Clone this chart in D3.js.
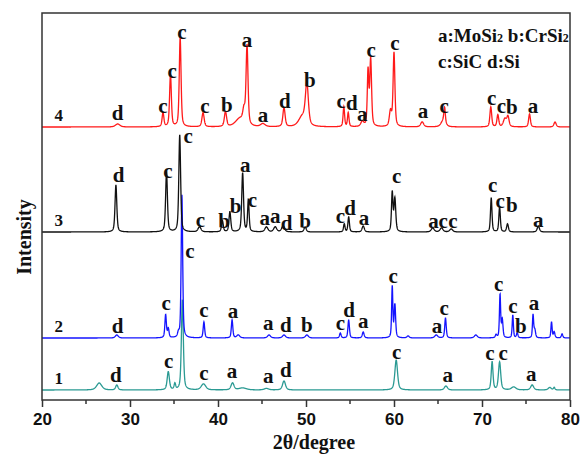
<!DOCTYPE html>
<html lang="en">
<head>
  <meta charset="UTF-8" />
  <title>XRD patterns</title>
  <style>
    body {
      margin: 0;
      background: #fff;
    }
    .peak-label, .trace-name, .legend, .axis-title {
      font-family: "Liberation Serif", "Times New Roman", serif;
      font-weight: bold;
      fill: #111;
    }
    .peak-label { font-size: 21px; }
    .trace-name { font-size: 17px; }
    .legend { font-size: 19px; }
    .axis-title { font-size: 20px; }
    .tick-label {
      font-family: "Liberation Sans", Arial, sans-serif;
      font-weight: bold;
      font-size: 17px;
      fill: #111;
    }
  </style>
</head>
<body>
  <div id="chart"></div>
  <script src="https://d3js.org/d3.v7.min.js"></script>
  <script>
    // Peaks: [2theta, intensity, half width]
    var peaks1 = [
      [26.5, 70, 0.35], [28.5, 50, 0.15], [34.35, 180, 0.15], [35.1, 60, 0.1],
      [35.95, 900, 0.13], [38.35, 60, 0.3], [41.65, 70, 0.2], [42.8, 20, 0.5],
      [45.5, 15, 0.3], [47.5, 90, 0.2], [60.25, 300, 0.18], [65.9, 40, 0.2],
      [71.15, 280, 0.12], [72.0, 280, 0.15], [73.6, 30, 0.3], [75.7, 50, 0.2],
      [77.7, 25, 0.2], [78.2, 25, 0.1]
    ];
    var peaks2 = [
      [28.5, 30, 0.2], [34.05, 230, 0.1], [34.35, 90, 0.1], [35.5, 40, 0.1],
      [35.9, 1430, 0.1], [38.4, 160, 0.1], [41.6, 180, 0.1], [42.3, 30, 0.2],
      [45.8, 30, 0.2], [47.5, 30, 0.2], [50.1, 30, 0.2], [53.9, 50, 0.1],
      [54.85, 180, 0.1], [56.5, 60, 0.12], [59.8, 510, 0.08], [60.1, 330, 0.1],
      [61.6, 20, 0.15], [64.8, 30, 0.2], [65.85, 200, 0.1], [69.3, 30, 0.2],
      [71.6, 30, 0.1], [72.05, 430, 0.08], [72.3, 180, 0.1], [73.5, 230, 0.08],
      [74.0, 50, 0.1], [75.8, 230, 0.08], [76.0, 80, 0.1], [77.9, 160, 0.08],
      [78.2, 60, 0.1], [79.1, 40, 0.1]
    ];
    var peaks3 = [
      [28.4, 470, 0.12], [34.15, 600, 0.12], [35.65, 970, 0.12], [37.9, 50, 0.2],
      [40.5, 110, 0.12], [41.35, 200, 0.12], [42.8, 590, 0.12], [43.45, 320, 0.1],
      [45.5, 50, 0.2], [46.5, 50, 0.2], [47.4, 60, 0.2], [49.9, 50, 0.15],
      [54.35, 80, 0.1], [54.85, 150, 0.1], [56.5, 60, 0.15], [59.8, 390, 0.1],
      [60.1, 330, 0.12], [64.4, 40, 0.2], [65.4, 40, 0.2], [66.5, 30, 0.2],
      [71.05, 340, 0.1], [72.0, 250, 0.1], [72.9, 80, 0.12], [76.4, 60, 0.15]
    ];
    var peaks4 = [
      [28.6, 30, 0.3], [33.75, 140, 0.12], [34.6, 520, 0.12], [35.7, 890, 0.12],
      [38.3, 140, 0.15], [40.85, 150, 0.15], [42.5, 80, 0.6], [42.95, 120, 0.15],
      [43.3, 790, 0.13], [45.1, 30, 0.3], [47.5, 190, 0.15], [49.6, 100, 0.5],
      [50.1, 400, 0.2], [54.3, 200, 0.1], [54.8, 140, 0.1], [56.4, 50, 0.2],
      [57.05, 550, 0.1], [57.35, 670, 0.12], [59.6, 150, 0.15], [60.0, 740, 0.12],
      [63.2, 50, 0.2], [65.6, 60, 0.3], [65.75, 150, 0.1], [71.0, 200, 0.12],
      [71.8, 120, 0.12], [72.6, 80, 0.2], [72.95, 100, 0.15], [75.4, 130, 0.12],
      [78.3, 50, 0.15]
    ];

    // Phase letters above the peaks: [letter, 2theta, height above baseline]
    var labels1 = [
      ["d", 28.4, 80], ["c", 34.4, 220], ["c", 38.4, 100], ["a", 41.6, 120],
      ["a", 45.7, 70], ["d", 47.7, 130], ["c", 60.3, 310], ["a", 66.1, 80],
      ["c", 70.9, 300], ["c", 72.4, 300], ["a", 75.6, 90]
    ];
    var labels2 = [
      ["d", 28.6, 50], ["c", 34.1, 280], ["c", 36.8, 800], ["c", 38.4, 210],
      ["a", 41.7, 200], ["a", 45.7, 80], ["d", 47.7, 60], ["b", 50.1, 60],
      ["c", 53.9, 80], ["d", 54.9, 210], ["a", 56.5, 100], ["c", 59.9, 550],
      ["a", 64.9, 50], ["c", 65.7, 230], ["c", 71.9, 470], ["c", 73.5, 250],
      ["b", 74.4, 50], ["a", 75.9, 280]
    ];
    var labels3 = [
      ["d", 28.7, 500], ["c", 34.3, 540], ["c", 36.6, 890], ["c", 38.0, 50],
      ["b", 40.7, 40], ["b", 42.0, 190], ["a", 43.1, 600], ["c", 43.9, 250],
      ["a", 45.3, 70], ["a", 46.5, 90], ["d", 47.8, 20], ["b", 49.9, 40],
      ["c", 53.9, 90], ["d", 55.0, 170], ["a", 56.6, 70], ["c", 60.3, 490],
      ["a", 64.5, 40], ["c", 65.6, 40], ["c", 66.7, 40], ["c", 71.2, 400],
      ["c", 72.05, 240], ["b", 73.4, 200], ["a", 76.4, 50]
    ];
    var labels4 = [
      ["d", 28.6, 70], ["c", 33.75, 140], ["c", 34.8, 490], ["c", 35.9, 880],
      ["c", 38.5, 140], ["b", 41.0, 150], ["a", 43.3, 800], ["a", 45.1, 50],
      ["d", 47.6, 190], ["b", 50.45, 400], ["c", 54.0, 190], ["d", 55.2, 170],
      ["a", 56.4, 60], ["c", 57.4, 700], ["c", 60.1, 770], ["a", 63.3, 90],
      ["c", 65.7, 140], ["c", 71.1, 220], ["c", 72.2, 140], ["b", 73.4, 130],
      ["a", 75.8, 140]
    ];

    var traceNames = ["1", "2", "3", "4"];
    var offsets = [100, 620, 1680, 2730];
    var colors = ["#2b9a93", "#1414ff", "#111111", "#ff1a1a"];
    var xTicks = [20, 30, 40, 50, 60, 70, 80];
    var xMinorTicks = [25, 35, 45, 55, 65, 75];

    var width = 588, height = 454;
    var margin = {top: 13, right: 18, bottom: 54, left: 42};

    var svg = d3.select("#chart")
      .append("svg")
      .attr("width", width)
      .attr("height", height);

    var x = d3.scaleLinear()
      .domain([20, 80])
      .range([margin.left, width - margin.right]);

    var y = d3.scaleLinear()
      .domain([0, 3870])
      .range([height - margin.bottom, margin.top]);

    // pseudo-Voigt profile summed over a peak list
    function profile(peaks, base) {
      var pts = [];
      for (var t = 20; t <= 80.0001; t += 0.02) {
        var v = base;
        peaks.forEach(function(p) {
          var u = (t - p[0]) / p[2];
          v += p[1] * (0.5 * Math.exp(-Math.LN2 * u * u) + 0.5 / (1 + u * u));
        });
        pts.push([t, v]);
      }
      return pts;
    }

    var line = d3.line()
      .x(function(d) { return x(d[0]); })
      .y(function(d) { return y(d[1]); });

    var allPeaks = [peaks1, peaks2, peaks3, peaks4];
    var allLabels = [labels1, labels2, labels3, labels4];

    allPeaks.forEach(function(pk, i) {
      svg.append("path")
        .attr("d", line(profile(pk, offsets[i])))
        .attr("fill", "none")
        .attr("stroke", colors[i])
        .attr("stroke-width", 1.3);
    });

    allLabels.forEach(function(lb, i) {
      svg.selectAll(null)
        .data(lb)
        .enter()
        .append("text")
        .attr("class", "peak-label")
        .attr("text-anchor", "middle")
        .attr("x", function(d) { return x(d[1]); })
        .attr("y", function(d) { return y(offsets[i] + d[2]); })
        .text(function(d) { return d[0]; });

      svg.append("text")
        .attr("class", "trace-name")
        .attr("text-anchor", "middle")
        .attr("x", x(21.9))
        .attr("y", y(offsets[i] + 65))
        .text(traceNames[i]);
    });

    // frame
    svg.append("rect")
      .attr("x", margin.left)
      .attr("y", margin.top)
      .attr("width", width - margin.left - margin.right)
      .attr("height", height - margin.top - margin.bottom)
      .attr("fill", "none")
      .attr("stroke", "#333")
      .attr("stroke-width", 1.5);

    // bottom axis
    var xAxis = svg.append("g")
      .attr("transform", "translate(0," + (height - margin.bottom) + ")")
      .call(d3.axisBottom(x).tickValues(xTicks).tickSize(7).tickPadding(6).tickFormat(d3.format("d")));
    xAxis.select(".domain").remove();
    xAxis.selectAll(".tick line").attr("stroke", "#333").attr("stroke-width", 1.5);
    xAxis.selectAll(".tick text").attr("class", "tick-label");

    svg.append("g")
      .selectAll("line")
      .data(xMinorTicks)
      .enter()
      .append("line")
      .attr("x1", function(d) { return x(d); })
      .attr("x2", function(d) { return x(d); })
      .attr("y1", height - margin.bottom)
      .attr("y2", height - margin.bottom + 4)
      .attr("stroke", "#333")
      .attr("stroke-width", 1.5);

    // axis titles
    svg.append("text")
      .attr("class", "axis-title")
      .attr("text-anchor", "middle")
      .attr("x", 314)
      .attr("y", 449)
      .text("2θ/degree");

    svg.append("text")
      .attr("class", "axis-title")
      .attr("text-anchor", "middle")
      .attr("transform", "translate(31,237) rotate(-90)")
      .text("Intensity");

    // legend
    var leg1 = svg.append("text").attr("class", "legend").attr("x", 438).attr("y", 42);
    leg1.append("tspan").text("a:MoSi");
    leg1.append("tspan").attr("font-size", 12).text("2");
    leg1.append("tspan").text(" b:CrSi");
    leg1.append("tspan").attr("font-size", 12).text("2");
    svg.append("text").attr("class", "legend").attr("x", 438).attr("y", 68).text("c:SiC d:Si");
  </script>
</body>
</html>
